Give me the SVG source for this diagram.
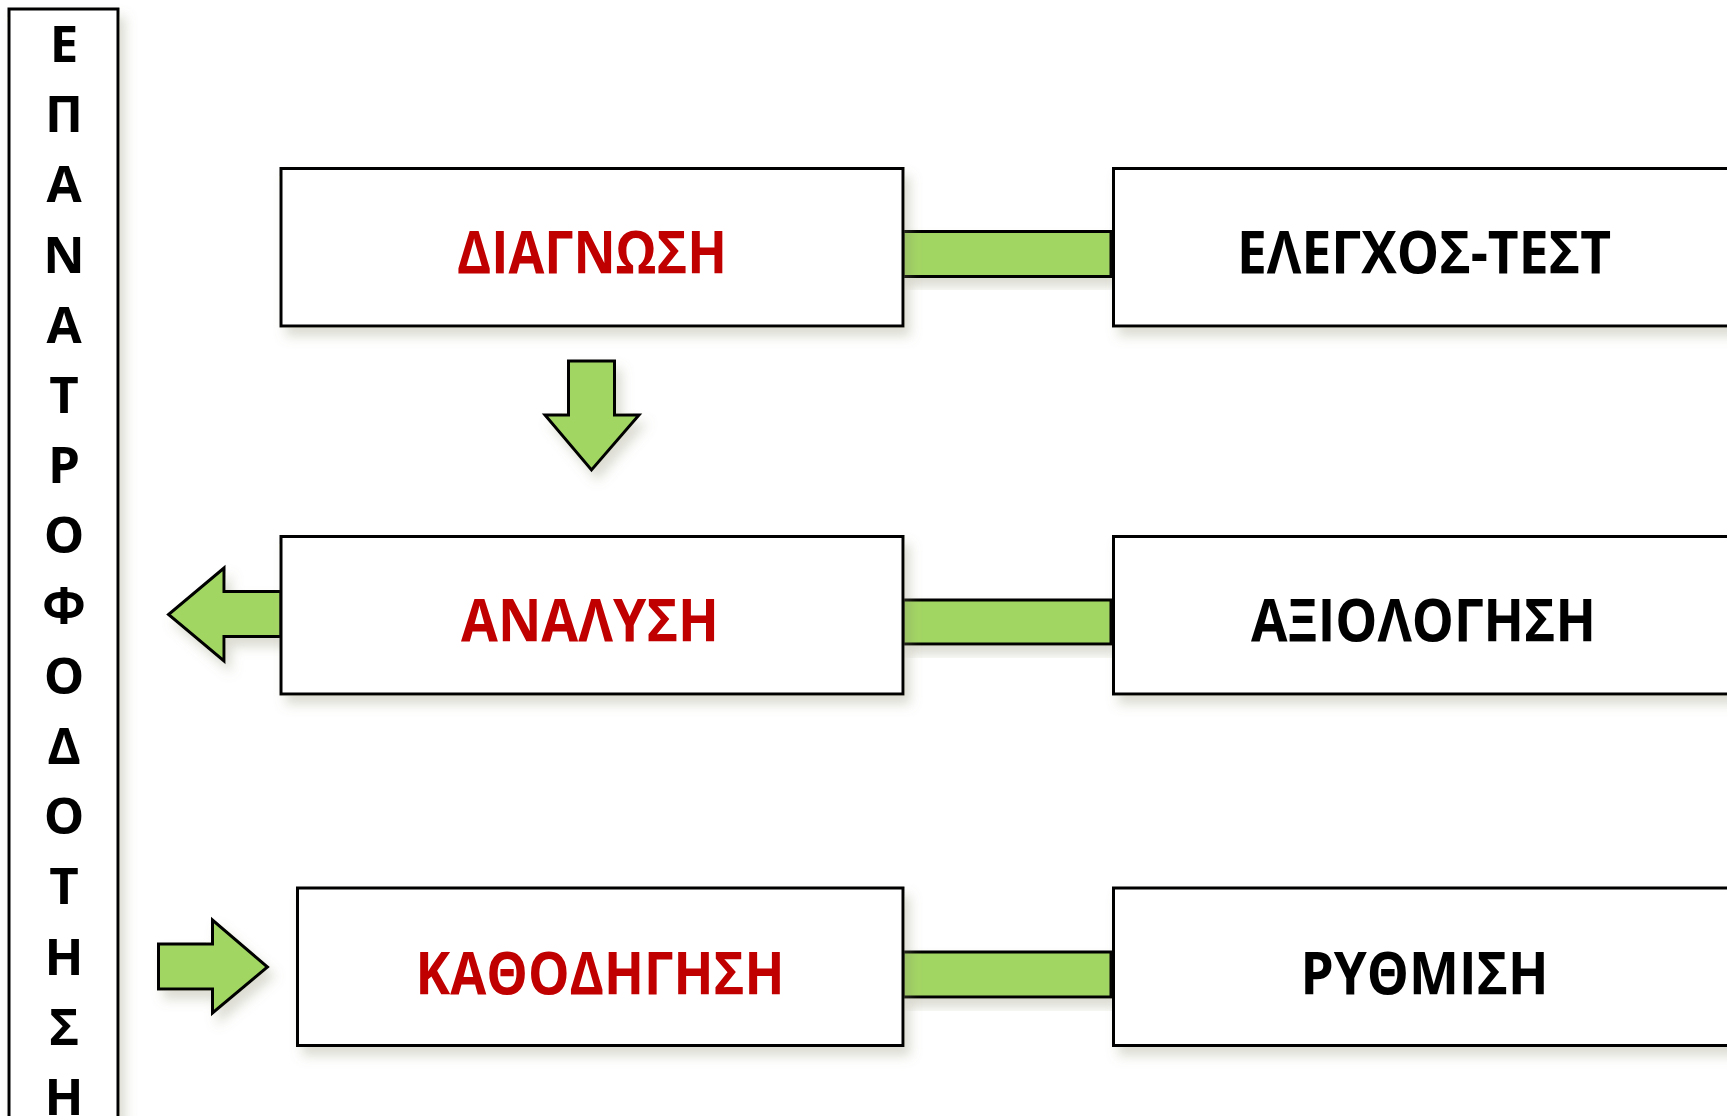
<svg xmlns="http://www.w3.org/2000/svg" width="1727" height="1116" viewBox="0 0 1727 1116">
<defs>
<filter id="sh" x="-10%" y="-10%" width="130%" height="140%">
<feDropShadow dx="6" dy="9" stdDeviation="6" flood-color="#8a8a70" flood-opacity="0.3"/>
</filter>
<style>
.box{fill:#fff;stroke:#000;stroke-width:3}
.grn{fill:#A2D664;stroke:#000;stroke-width:3;stroke-linejoin:miter}
.red{font-family:"Open Sans","Liberation Sans",sans-serif;font-weight:700;font-size:59px;fill:#C00000;text-anchor:middle}
.blk{font-family:"Open Sans","Liberation Sans",sans-serif;font-weight:700;font-size:59px;fill:#000;text-anchor:middle}
.v{font-family:"Open Sans","Liberation Sans",sans-serif;font-weight:700;font-size:51px;fill:#000;text-anchor:middle}
</style>
</defs>
<rect width="1727" height="1116" fill="#fff"/>
<g id="feedback">
<rect class="box" x="9" y="9" width="109" height="1120" filter="url(#sh)"/>
<text class="v" x="64" y="62">Ε</text>
<text class="v" x="64" y="132">Π</text>
<text class="v" x="64" y="202">Α</text>
<text class="v" x="64" y="273">Ν</text>
<text class="v" x="64" y="343">Α</text>
<text class="v" x="64" y="413">Τ</text>
<text class="v" x="64" y="483">Ρ</text>
<text class="v" x="64" y="553">Ο</text>
<text class="v" x="64" y="624">Φ</text>
<text class="v" x="64" y="694">Ο</text>
<text class="v" x="64" y="764">Δ</text>
<text class="v" x="64" y="834">Ο</text>
<text class="v" x="64" y="904">Τ</text>
<text class="v" x="64" y="975">Η</text>
<text class="v" x="64" y="1045">Σ</text>
<text class="v" x="64" y="1115">Η</text>
</g>
<g id="connectors">
<rect class="grn" x="903" y="231.5" width="208" height="45" filter="url(#sh)"/>
<rect class="grn" x="903" y="600" width="208" height="44" filter="url(#sh)"/>
<rect class="grn" x="903" y="952" width="208" height="45" filter="url(#sh)"/>
<polygon class="grn" points="568.5,361 614.5,361 614.5,415 639,415 591.5,470 545,415 568.5,415" filter="url(#sh)"/>
<polygon class="grn" points="281,591.5 224,591.5 224,568 168.5,614.5 224,661 224,636.5 281,636.5" filter="url(#sh)"/>
<polygon class="grn" points="158.5,944 212.5,944 212.5,920 267.5,967 212.5,1013 212.5,989 158.5,989" filter="url(#sh)"/>
</g>
<g id="diagnosi">
<rect class="box" x="281" y="168.5" width="622" height="157.5" filter="url(#sh)"/>
<text class="red" x="592" y="273" textLength="270" lengthAdjust="spacingAndGlyphs">ΔΙΑΓΝΩΣΗ</text>
</g>
<g id="elegxos">
<rect class="box" x="1113.5" y="168.5" width="640" height="157.5" filter="url(#sh)"/>
<text class="blk" x="1424" y="273" textLength="374" lengthAdjust="spacingAndGlyphs">ΕΛΕΓΧΟΣ-ΤΕΣΤ</text>
</g>
<g id="analysi">
<rect class="box" x="281" y="536.5" width="622" height="157.5" filter="url(#sh)"/>
<text class="red" x="590" y="641" textLength="258" lengthAdjust="spacingAndGlyphs">ΑΝΑΛΥΣΗ</text>
</g>
<g id="axiologisi">
<rect class="box" x="1113.5" y="536.5" width="640" height="157.5" filter="url(#sh)"/>
<text class="blk" x="1423.5" y="641" textLength="345" lengthAdjust="spacingAndGlyphs">ΑΞΙΟΛΟΓΗΣΗ</text>
</g>
<g id="kathodigisi">
<rect class="box" x="297.5" y="888" width="605.5" height="157.5" filter="url(#sh)"/>
<text class="red" x="600" y="993.5" textLength="369" lengthAdjust="spacingAndGlyphs">ΚΑΘΟΔΗΓΗΣΗ</text>
</g>
<g id="rythmisi">
<rect class="box" x="1113.5" y="888" width="640" height="157.5" filter="url(#sh)"/>
<text class="blk" x="1424.5" y="993.5" textLength="248" lengthAdjust="spacingAndGlyphs">ΡΥΘΜΙΣΗ</text>
</g>
</svg>
